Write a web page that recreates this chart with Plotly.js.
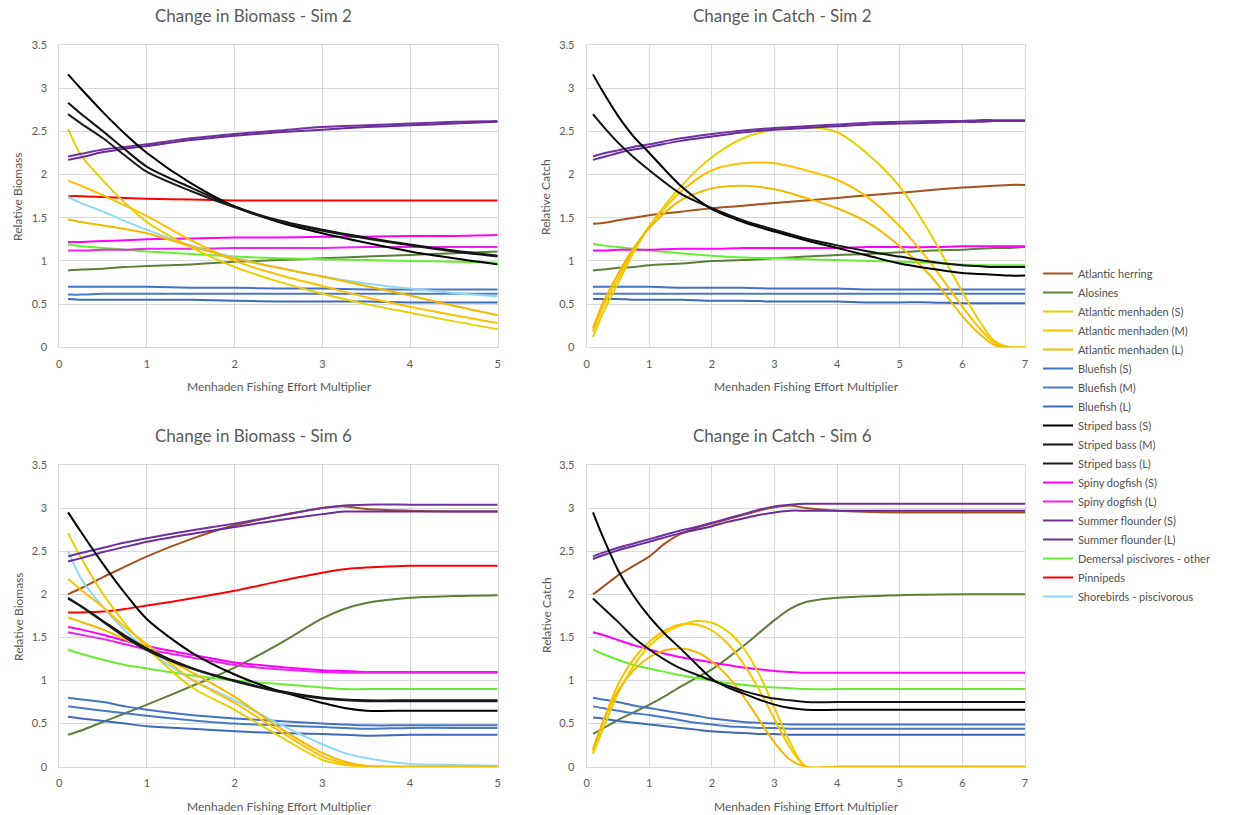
<!DOCTYPE html>
<html>
<head>
<meta charset="utf-8">
<script src="https://cdn.plot.ly/plotly-3.0.1.min.js"></script>
<style>html,body{margin:0;padding:0;background:#fff;}#chart{width:1236px;height:815px;}</style>
</head>
<body>
<div id="chart"></div>
<script>
// ---------- series names (legend order) ----------
const seriesNames = ["Atlantic herring","Alosines","Atlantic menhaden (S)","Atlantic menhaden (M)","Atlantic menhaden (L)",
  "Bluefish (S)","Bluefish (M)","Bluefish (L)","Striped bass (S)","Striped bass (M)","Striped bass (L)",
  "Spiny dogfish (S)","Spiny dogfish (L)","Summer flounder (S)","Summer flounder (L)",
  "Demersal piscivores - other","Pinnipeds","Shorebirds - piscivorous"];

// ---------- Panel 1: Change in Biomass - Sim 2 ----------
const b2_x = [0.1,0.25,0.5,0.75,1,1.5,2,2.5,3,3.5,4,4.5,5];
const b2_alosines = [0.89,0.90,0.91,0.93,0.94,0.96,0.99,1.01,1.03,1.05,1.07,1.09,1.11];
const b2_menS = [2.53,2.22,1.93,1.67,1.45,1.16,0.93,0.76,0.62,0.50,0.40,0.30,0.21];
const b2_menM = [1.93,1.87,1.76,1.64,1.52,1.24,1.00,0.84,0.71,0.58,0.47,0.37,0.28];
const b2_menL = [1.48,1.45,1.41,1.37,1.32,1.17,1.03,0.92,0.82,0.71,0.60,0.48,0.37];
const b2_bluS = [0.70,0.70,0.70,0.70,0.70,0.69,0.69,0.68,0.68,0.67,0.67,0.67,0.67];
const b2_bluM = [0.61,0.61,0.62,0.62,0.62,0.62,0.62,0.62,0.62,0.62,0.62,0.62,0.62];
const b2_bluL = [0.56,0.55,0.55,0.55,0.55,0.55,0.54,0.53,0.53,0.53,0.52,0.52,0.52];
const b2_sbS = [3.16,2.99,2.72,2.47,2.25,1.90,1.63,1.45,1.32,1.21,1.11,1.03,0.96];
const b2_sbM = [2.83,2.70,2.50,2.29,2.09,1.85,1.63,1.47,1.36,1.27,1.19,1.12,1.06];
const b2_sbL = [2.70,2.59,2.42,2.22,2.03,1.81,1.62,1.46,1.35,1.26,1.18,1.11,1.05];
const b2_dogS = [1.22,1.22,1.23,1.24,1.25,1.26,1.27,1.27,1.28,1.28,1.29,1.29,1.30];
const b2_dogL = [1.12,1.12,1.13,1.13,1.14,1.14,1.15,1.15,1.15,1.16,1.16,1.16,1.16];
const b2_flS = [2.21,2.24,2.29,2.32,2.35,2.42,2.47,2.51,2.55,2.57,2.59,2.61,2.62];
const b2_flL = [2.17,2.20,2.26,2.30,2.33,2.40,2.45,2.49,2.52,2.55,2.57,2.59,2.61];
const b2_dem = [1.19,1.17,1.15,1.13,1.11,1.08,1.05,1.03,1.02,1.01,1.00,0.99,0.98];
const b2_pinn = [1.75,1.75,1.74,1.73,1.72,1.71,1.70,1.70,1.70,1.70,1.70,1.70,1.70];
const b2_shore = [1.74,1.67,1.57,1.46,1.36,1.18,1.04,0.92,0.82,0.74,0.68,0.63,0.59];

// ---------- Panel 2: Change in Catch - Sim 2 ----------
const c2_x = [0.1,0.25,0.5,0.75,1,1.5,2,2.5,3,3.5,4,4.5,5,5.5,6,6.25,6.5,6.75,7];
const c2_herring = [1.43,1.44,1.47,1.50,1.53,1.57,1.61,1.64,1.67,1.70,1.73,1.76,1.79,1.82,1.85,1.86,1.87,1.88,1.88];
const c2_alosines = [0.89,0.90,0.92,0.93,0.95,0.97,1.00,1.01,1.03,1.05,1.07,1.08,1.10,1.12,1.13,1.14,1.15,1.15,1.16];
const c2_menS = [0.12,0.38,0.74,1.10,1.40,1.86,2.20,2.42,2.52,2.55,2.49,2.23,1.86,1.30,0.64,0.33,0.08,0.0,0.0];
const c2_menM = [0.18,0.45,0.80,1.13,1.40,1.80,2.05,2.13,2.13,2.05,1.94,1.73,1.40,0.97,0.47,0.24,0.06,0.0,0.0];
const c2_menL = [0.22,0.50,0.85,1.15,1.38,1.70,1.84,1.87,1.83,1.73,1.61,1.44,1.17,0.82,0.36,0.17,0.03,0.0,0.0];
const c2_bluS = [0.70,0.70,0.70,0.70,0.70,0.69,0.69,0.69,0.68,0.68,0.68,0.67,0.67,0.67,0.67,0.67,0.67,0.67,0.67];
const c2_bluM = [0.62,0.62,0.62,0.62,0.62,0.62,0.62,0.62,0.62,0.62,0.62,0.62,0.62,0.62,0.62,0.62,0.62,0.62,0.62];
const c2_bluL = [0.56,0.56,0.56,0.55,0.55,0.55,0.54,0.54,0.53,0.53,0.53,0.52,0.52,0.52,0.51,0.51,0.51,0.51,0.51];
const c2_sbS = [3.16,2.97,2.68,2.44,2.25,1.87,1.60,1.45,1.34,1.24,1.15,1.06,0.97,0.91,0.86,0.85,0.84,0.83,0.83];
const c2_sbM = [2.70,2.57,2.37,2.20,2.05,1.78,1.61,1.47,1.36,1.26,1.18,1.11,1.05,0.99,0.95,0.94,0.93,0.93,0.93];
const c2_dogS = [1.12,1.12,1.13,1.13,1.13,1.14,1.14,1.15,1.15,1.15,1.15,1.16,1.16,1.16,1.17,1.17,1.17,1.17,1.17];
const c2_flS = [2.21,2.24,2.28,2.32,2.35,2.42,2.47,2.51,2.54,2.56,2.58,2.60,2.61,2.62,2.62,2.63,2.63,2.63,2.63];
const c2_flL = [2.17,2.20,2.25,2.29,2.32,2.39,2.44,2.49,2.52,2.54,2.56,2.58,2.59,2.60,2.61,2.61,2.62,2.62,2.62];
const c2_dem = [1.20,1.18,1.16,1.14,1.12,1.09,1.06,1.04,1.03,1.02,1.01,1.00,0.99,0.98,0.96,0.95,0.95,0.95,0.95];

// ---------- Panel 3: Change in Biomass - Sim 6 ----------
const b6_x = [0.1,0.25,0.5,0.75,1,1.5,2,2.5,3,3.25,3.5,4,4.5,5];
const b6_herring = [2.00,2.07,2.20,2.32,2.44,2.64,2.80,2.91,3.00,3.02,2.99,2.97,2.96,2.96];
const b6_alosines = [0.37,0.42,0.52,0.62,0.72,0.93,1.15,1.42,1.72,1.83,1.90,1.96,1.98,1.99];
const b6_menS = [2.71,2.42,2.00,1.66,1.38,0.93,0.66,0.36,0.08,0.02,0.0,0.0,0.0,0.0];
const b6_menM = [2.18,2.05,1.85,1.62,1.42,1.02,0.74,0.42,0.12,0.04,0.0,0.0,0.0,0.0];
const b6_menL = [1.73,1.68,1.59,1.48,1.36,1.10,0.81,0.46,0.16,0.06,0.01,0.0,0.0,0.0];
const b6_bluS = [0.80,0.78,0.75,0.70,0.66,0.60,0.56,0.53,0.50,0.49,0.48,0.48,0.48,0.48];
const b6_bluM = [0.70,0.68,0.65,0.62,0.59,0.54,0.50,0.48,0.46,0.45,0.44,0.45,0.45,0.45];
const b6_bluL = [0.58,0.56,0.53,0.50,0.47,0.44,0.41,0.39,0.38,0.37,0.36,0.37,0.37,0.37];
const b6_sbS = [2.95,2.72,2.35,2.01,1.71,1.33,1.07,0.88,0.74,0.68,0.65,0.65,0.65,0.65];
const b6_sbM = [1.95,1.86,1.69,1.52,1.37,1.15,1.00,0.88,0.80,0.78,0.77,0.77,0.77,0.77];
const b6_sbL = [1.96,1.86,1.68,1.50,1.35,1.14,0.99,0.87,0.79,0.77,0.76,0.76,0.76,0.76];
const b6_dogS = [1.62,1.59,1.53,1.46,1.40,1.30,1.21,1.16,1.12,1.11,1.10,1.10,1.10,1.10];
const b6_dogL = [1.56,1.53,1.48,1.42,1.36,1.27,1.18,1.13,1.10,1.09,1.09,1.09,1.09,1.09];
const b6_flS = [2.44,2.48,2.54,2.60,2.65,2.74,2.82,2.91,3.00,3.03,3.04,3.04,3.04,3.04];
const b6_flL = [2.38,2.42,2.49,2.55,2.61,2.70,2.78,2.86,2.93,2.96,2.96,2.96,2.96,2.96];
const b6_dem = [1.36,1.31,1.24,1.18,1.14,1.06,1.00,0.96,0.92,0.90,0.90,0.90,0.90,0.90];
const b6_pinn = [1.79,1.79,1.80,1.83,1.87,1.95,2.04,2.15,2.25,2.29,2.31,2.33,2.33,2.33];
const b6_shore = [2.50,2.18,1.85,1.58,1.36,1.02,0.77,0.50,0.26,0.16,0.10,0.03,0.02,0.01];

// ---------- Panel 4: Change in Catch - Sim 6 ----------
const c6_x = [0.1,0.25,0.5,0.75,1,1.25,1.5,1.75,2,2.25,2.5,2.75,3,3.25,3.5,4,5,6,7];
const c6_herring = [2.00,2.08,2.22,2.33,2.44,2.59,2.70,2.77,2.82,2.87,2.92,2.97,3.01,3.03,3.00,2.97,2.95,2.95,2.95];
const c6_alosines = [0.38,0.44,0.54,0.63,0.72,0.82,0.93,1.03,1.13,1.26,1.40,1.55,1.70,1.83,1.91,1.96,1.99,2.00,2.00];
const c6_menS = [0.15,0.42,0.85,1.17,1.40,1.55,1.64,1.69,1.67,1.57,1.38,1.08,0.68,0.28,0.0,0.0,0.0,0.0,0.0];
const c6_menM = [0.18,0.50,0.95,1.25,1.45,1.58,1.65,1.65,1.58,1.43,1.20,0.90,0.55,0.22,0.0,0.0,0.0,0.0,0.0];
const c6_menL = [0.20,0.50,0.88,1.12,1.27,1.35,1.37,1.33,1.22,1.05,0.82,0.55,0.28,0.08,0.0,0.0,0.0,0.0,0.0];
const c6_bluS = [0.80,0.78,0.75,0.71,0.68,0.65,0.62,0.59,0.56,0.54,0.52,0.51,0.50,0.49,0.49,0.49,0.49,0.49,0.49];
const c6_bluM = [0.70,0.68,0.65,0.62,0.60,0.57,0.54,0.51,0.49,0.47,0.46,0.45,0.45,0.44,0.44,0.44,0.44,0.44,0.44];
const c6_bluL = [0.57,0.56,0.53,0.51,0.49,0.47,0.45,0.43,0.41,0.40,0.39,0.38,0.38,0.37,0.37,0.37,0.37,0.37,0.37];
const c6_sbS = [2.95,2.68,2.28,1.98,1.74,1.54,1.37,1.19,1.02,0.92,0.85,0.78,0.72,0.68,0.66,0.66,0.66,0.66,0.66];
const c6_sbM = [1.95,1.85,1.68,1.50,1.36,1.24,1.14,1.07,1.00,0.94,0.88,0.83,0.79,0.77,0.75,0.75,0.75,0.75,0.75];
const c6_dogS = [1.56,1.53,1.47,1.41,1.36,1.31,1.27,1.24,1.21,1.18,1.15,1.13,1.11,1.10,1.09,1.09,1.09,1.09,1.09];
const c6_flS = [2.44,2.48,2.54,2.59,2.64,2.69,2.74,2.78,2.83,2.88,2.93,2.98,3.02,3.04,3.05,3.05,3.05,3.05,3.05];
const c6_flL = [2.41,2.45,2.51,2.56,2.61,2.66,2.71,2.75,2.79,2.84,2.88,2.92,2.95,2.97,2.97,2.97,2.97,2.97,2.97];
const c6_dem = [1.36,1.31,1.24,1.18,1.14,1.10,1.06,1.03,1.00,0.97,0.95,0.93,0.92,0.91,0.90,0.90,0.90,0.90,0.90];

// ---------- styles ----------
const seriesColors = ["#a5501e","#5b7f3a","#e8d000","#ffc000","#f5b800",
  "#4472c4","#4a78c8","#4068b8","#000000","#111111","#1a1a1a",
  "#ff00ff","#ee22ee","#7030a0","#6a2c9a",
  "#66ee33","#ff0000","#8fd8f5"];

const panels = [
  {xa:"x", ya:"y", x:b2_x, series:{1:b2_alosines,2:b2_menS,3:b2_menM,4:b2_menL,5:b2_bluS,6:b2_bluM,7:b2_bluL,
     8:b2_sbS,9:b2_sbM,10:b2_sbL,11:b2_dogS,12:b2_dogL,13:b2_flS,14:b2_flL,15:b2_dem,16:b2_pinn,17:b2_shore}},
  {xa:"x2", ya:"y2", x:c2_x, series:{0:c2_herring,1:c2_alosines,2:c2_menS,3:c2_menM,4:c2_menL,5:c2_bluS,6:c2_bluM,7:c2_bluL,
     8:c2_sbS,9:c2_sbM,11:c2_dogS,13:c2_flS,14:c2_flL,15:c2_dem}},
  {xa:"x3", ya:"y3", x:b6_x, series:{0:b6_herring,1:b6_alosines,2:b6_menS,3:b6_menM,4:b6_menL,5:b6_bluS,6:b6_bluM,7:b6_bluL,
     8:b6_sbS,9:b6_sbM,10:b6_sbL,11:b6_dogS,12:b6_dogL,13:b6_flS,14:b6_flL,15:b6_dem,16:b6_pinn,17:b6_shore}},
  {xa:"x4", ya:"y4", x:c6_x, series:{0:c6_herring,1:c6_alosines,2:c6_menS,3:c6_menM,4:c6_menL,5:c6_bluS,6:c6_bluM,7:c6_bluL,
     8:c6_sbS,9:c6_sbM,11:c6_dogS,13:c6_flS,14:c6_flL,15:c6_dem}}
];

const traces = [];
const shown = {};
const drawOrder = [1,0,15,16,11,12,5,6,7,17,2,3,4,13,14,8,9,10];
panels.forEach(p => {
  drawOrder.forEach(i => {
    const y = p.series[i];
    if (!y) return;
    const show = !shown[i];
    shown[i] = true;
    traces.push({
      type:"scatter", mode:"lines", x:p.x, y:y, name:seriesNames[i],
      legendgroup:"g"+i, showlegend:show, legendrank:i+1,
      xaxis:p.xa, yaxis:p.ya,
      line:{color:seriesColors[i], width:2, shape:"spline", smoothing:0.8},
      hoverinfo:"name+x+y"
    });
  });
});

const W = 1236, H = 815;
const px = v => v / W, py = v => 1 - v / H;
const gridC = "#d9d9d9";
const tickF = {family:"Lato, 'Open Sans', sans-serif", size:11, color:"#595959"};
function xAx(dom, max, anchor){
  return {domain:dom, range:[0,max], dtick:1, tick0:0, anchor:anchor, showgrid:true, gridcolor:gridC, gridwidth:1,
    zeroline:false, showline:true, linecolor:gridC, mirror:true, ticks:"", tickfont:tickF, ticklabelstandoff:6, fixedrange:true};
}
function yAx(dom, anchor){
  return {domain:dom, range:[0,3.5], dtick:0.5, tick0:0, anchor:anchor, showgrid:true, gridcolor:gridC, gridwidth:1,
    zeroline:false, showline:true, linecolor:gridC, mirror:true, ticks:"", tickfont:tickF, ticklabelstandoff:9, fixedrange:true};
}
const xdL = [px(59.3), px(497.7)], xdR = [px(586.7), px(1025)];
const ydT = [py(347.3), py(45)], ydB = [py(766.7), py(465)];

const titleF = {family:"Lato, 'Open Sans', sans-serif", size:17, color:"#595959"};
const axTF = {family:"Lato, 'Open Sans', sans-serif", size:12, color:"#595959"};
const ann = [];
function addAnn(text, x, y, font, angle){
  ann.push({text:text, x:px(x), y:py(y), xref:"paper", yref:"paper", showarrow:false, font:font,
    xanchor:"center", yanchor:"middle", textangle:angle||0});
}
addAnn("Change in Biomass - Sim 2", 253, 16, titleF);
addAnn("Change in Catch - Sim 2", 782, 16, titleF);
addAnn("Change in Biomass - Sim 6", 253, 435, titleF);
addAnn("Change in Catch - Sim 6", 782, 435, titleF);
addAnn("Menhaden Fishing Effort Multiplier", 279, 387, axTF);
addAnn("Menhaden Fishing Effort Multiplier", 806, 387, axTF);
addAnn("Menhaden Fishing Effort Multiplier", 279, 806, axTF);
addAnn("Menhaden Fishing Effort Multiplier", 806, 806, axTF);
addAnn("Relative Biomass", 18, 197, axTF, -90);
addAnn("Relative Catch", 546, 197, axTF, -90);
addAnn("Relative Biomass", 18, 617, axTF, -90);
addAnn("Relative Catch", 546, 615, axTF, -90);

const layout = {
  width:W, height:H, margin:{l:0,r:0,t:0,b:0}, paper_bgcolor:"#fff", plot_bgcolor:"#fff",
  showlegend:true,
  legend:{x:px(1038), y:py(259), xanchor:"left", yanchor:"top", font:{family:"Lato, 'Open Sans', sans-serif", size:11, color:"#505050"},
    tracegroupgap:0, itemwidth:30, bgcolor:"rgba(0,0,0,0)"},
  xaxis:xAx(xdL,5,"y"), yaxis:yAx(ydT,"x"),
  xaxis2:xAx(xdR,7,"y2"), yaxis2:yAx(ydT,"x2"),
  xaxis3:xAx(xdL,5,"y3"), yaxis3:yAx(ydB,"x3"),
  xaxis4:xAx(xdR,7,"y4"), yaxis4:yAx(ydB,"x4"),
  annotations:ann
};
Plotly.newPlot("chart", traces, layout, {displayModeBar:false});
</script>
</body>
</html>
